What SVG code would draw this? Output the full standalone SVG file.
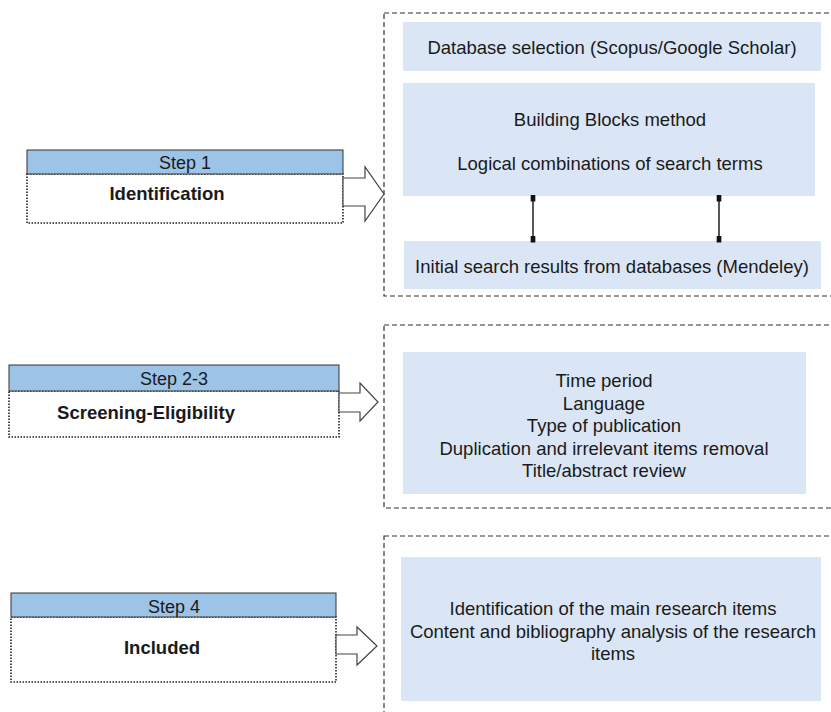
<svg xmlns="http://www.w3.org/2000/svg" width="831" height="712" viewBox="0 0 831 712">
<style>
text{font-family:"Liberation Sans",Arial,sans-serif;fill:#1a1a1a;text-anchor:middle}
.hdr{fill:#9dc3e6;stroke:#333;stroke-width:1}
.body{fill:#fff;stroke:#222;stroke-width:1.6;stroke-dasharray:1.5 1.5}
.cont{fill:none;stroke:#333;stroke-width:1.2;stroke-dasharray:5 3}
.inner{fill:#dae6f5}
.arr{fill:#fff;stroke:#444;stroke-width:1.2}
.t{font-size:18.5px}
.s{font-size:18px}
.b{font-size:18.5px;font-weight:bold}
.conn{stroke:#111;stroke-width:1.4}
</style>
<defs>
<marker id="dot" viewBox="0 0 6 6" refX="3" refY="3" markerWidth="5" markerHeight="5" orient="auto">
<rect x="0" y="1" width="6" height="4" fill="#111"/>
</marker>
</defs>

<g id="container1"><rect class="cont" x="384" y="13" width="460" height="283"/></g>
<g id="container2"><rect class="cont" x="384" y="325" width="460" height="183"/></g>
<g id="container3"><rect class="cont" x="384" y="536" width="460" height="190"/></g>

<g id="step1">
<rect class="body" x="27" y="174" width="316" height="49"/>
<rect class="hdr" x="27" y="150" width="316" height="24"/>
<text class="s" x="185" y="168.5">Step 1</text>
<text class="b" x="167" y="200">Identification</text>
</g>
<g id="arrow1"><path class="arr" d="M343 178 H365 V167 L384 194 L365 221 V206 H343 Z"/></g>

<g id="step23">
<rect class="body" x="9" y="391" width="330" height="46"/>
<rect class="hdr" x="9" y="365" width="330" height="26"/>
<text class="s" x="174" y="384.5">Step 2-3</text>
<text class="b" x="146" y="418.5">Screening-Eligibility</text>
</g>
<g id="arrow2"><path class="arr" d="M339 393 H360 V383 L378 402 L360 421 V412 H339 Z"/></g>

<g id="step4">
<rect class="body" x="11" y="617" width="325" height="65"/>
<rect class="hdr" x="11" y="593" width="325" height="24"/>
<text class="s" x="174" y="612.5">Step 4</text>
<text class="b" x="162" y="653.5">Included</text>
</g>
<g id="arrow3"><path class="arr" d="M336 635 H357 V627 L377 646 L357 665 V654 H336 Z"/></g>

<g id="db-selection">
<rect class="inner" x="403" y="22" width="418" height="49"/>
<text class="t" x="612" y="53.5">Database selection (Scopus/Google Scholar)</text>
</g>
<g id="building-blocks">
<rect class="inner" x="403" y="83" width="412" height="113"/>
<text class="t" x="610" y="125.5">Building Blocks method</text>
<text class="t" x="610" y="169.5">Logical combinations of search terms</text>
</g>
<g id="initial-search">
<rect class="inner" x="404" y="241" width="417" height="48"/>
<text class="t" x="612" y="272.5">Initial search results from databases (Mendeley)</text>
</g>
<g id="connectors">
<line class="conn" x1="533" y1="198" x2="533" y2="239" marker-start="url(#dot)" marker-end="url(#dot)"/>
<line class="conn" x1="719" y1="198" x2="719" y2="239" marker-start="url(#dot)" marker-end="url(#dot)"/>
</g>

<g id="screening">
<rect class="inner" x="403" y="352" width="403" height="142"/>
<text class="t" x="604" y="386.5">Time period</text>
<text class="t" x="604" y="409.5">Language</text>
<text class="t" x="604" y="431.5">Type of publication</text>
<text class="t" x="604" y="454.5">Duplication and irrelevant items removal</text>
<text class="t" x="604" y="476.5">Title/abstract review</text>
</g>

<g id="included">
<rect class="inner" x="401" y="557" width="420" height="144"/>
<text class="t" x="613" y="614.5">Identification of the main research items</text>
<text class="t" x="613" y="637.5">Content and bibliography analysis of the research</text>
<text class="t" x="613" y="659.5">items</text>
</g>
</svg>
